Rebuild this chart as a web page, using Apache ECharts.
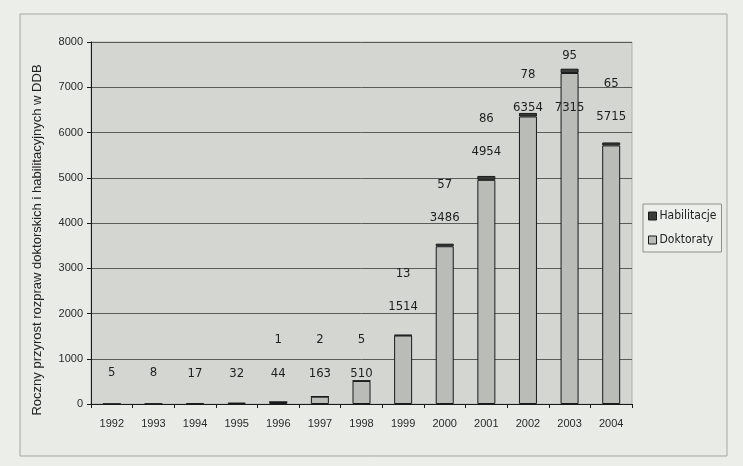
<!DOCTYPE html>
<html><head><meta charset="utf-8">
<script src="https://cdn.jsdelivr.net/npm/echarts@6/dist/echarts.min.js"></script>
<style>html,body{margin:0;padding:0;background:#eceeea;}#c{width:743px;height:466px;}</style>
</head><body><div id="c"></div>
<script>
var years = ['1992','1993','1994','1995','1996','1997','1998','1999','2000','2001','2002','2003','2004'];
var doktoraty = [5, 8, 17, 32, 44, 163, 510, 1514, 3486, 4954, 6354, 7315, 5715];
var habilitacje = [null, null, null, null, 1, 2, 5, 13, 57, 86, 78, 95, 65];
var yTicks = [0, 1000, 2000, 3000, 4000, 5000, 6000, 7000, 8000];

var W = 743, H = 466;
var gTop = 42, gBottom = 62, gLeft = 91, gRight = 111;
var gH = H - gTop - gBottom;
var yMax = 8000;
var pxPer = gH / yMax;
var cond = "'DejaVu Sans Condensed','Liberation Sans Narrow','Arial Narrow',sans-serif";
var sans = "'Liberation Sans',Arial,sans-serif";
var labelFs = 13;

// label layout rule: short bars share a common label row 32px above the base;
// taller bars get their label ~30px above the stack, capped at 298px above the base;
// habilitacje label sits 33px above that, and always clear of the bar top
function dokLabelPx(i){
  var bar = doktoraty[i] * pxPer;
  return Math.min(Math.max(bar < 40 ? 0 : bar + 30, 32), 298);
}
var half = labelFs * 0.6;
var dokData = doktoraty.map(function(v, i){
  var bar = v * pxPer;
  return {value: v, label: {distance: dokLabelPx(i) - bar - half}};
});
var habData = habilitacje.map(function(v, i){
  if (v == null) return {value: null};
  var top = (doktoraty[i] + v) * pxPer;
  var c = Math.max(dokLabelPx(i) + 33, top + 14);
  return {value: v, label: {distance: c - top - half}};
});

var chart = echarts.init(document.getElementById('c'), null, {renderer: 'canvas'});
chart.setOption({
  backgroundColor: '#eceeea',
  animation: false,
  graphic: [
    {type: 'rect', shape: {x: 20, y: 14, width: 707, height: 442},
     style: {fill: '#e9ebe7', stroke: '#a4a6a2', lineWidth: 1}, z: -10},
    {type: 'rect', shape: {x: gLeft, y: gTop, width: W - gLeft - gRight, height: gH},
     style: {fill: '#d3d6d1', stroke: '#b0b2ae', lineWidth: 1}, z: -5}
  ],
  grid: {left: gLeft, right: gRight, top: gTop, bottom: gBottom, containLabel: false},
  legend: {
    orient: 'vertical', left: 643, top: 204, itemWidth: 8, itemHeight: 8, itemGap: 12,
    padding: [6, 5, 6, 5], borderColor: '#8e908c', borderWidth: 1, backgroundColor: '#eceeea',
    icon: 'rect', itemStyle: {borderColor: '#1a1a1a', borderWidth: 1},
    textStyle: {fontFamily: cond, fontSize: 12, color: '#222', padding: [0, 0, 0, -2]},
    data: ['Habilitacje', 'Doktoraty']
  },
  xAxis: {
    type: 'category', data: years,
    axisLine: {lineStyle: {color: '#1a1a1a', width: 1}},
    axisTick: {show: true, length: 4, lineStyle: {color: '#1a1a1a'}},
    axisLabel: {fontFamily: sans, fontSize: 11, color: '#2a2a2a', margin: 14}
  },
  yAxis: {
    type: 'value', min: 0, max: yMax, interval: 1000,
    name: 'Roczny przyrost rozpraw doktorskich i habilitacyjnych w DDB',
    nameLocation: 'middle', nameGap: 47, nameRotate: 90,
    nameTextStyle: {fontFamily: sans, fontSize: 13, color: '#222', padding: [0, 34, 0, 0]},
    axisLine: {show: true, lineStyle: {color: '#1a1a1a', width: 1}},
    axisTick: {show: true, length: 4, lineStyle: {color: '#1a1a1a'}},
    axisLabel: {fontFamily: sans, fontSize: 11, color: '#2a2a2a', margin: 8,
      formatter: function(v){ return yTicks.indexOf(v) >= 0 ? String(v) : ''; }},
    splitLine: {show: true, lineStyle: {color: '#5a5c58', width: 1}}
  },
  series: [
    {
      name: 'Doktoraty', type: 'bar', stack: 'all', barWidth: 18,
      itemStyle: {color: '#b9bcb7', borderColor: '#1a1a1a', borderWidth: 1},
      label: {show: true, position: 'top', fontFamily: cond, fontSize: labelFs, color: '#1e1e1e'},
      data: dokData
    },
    {
      name: 'Habilitacje', type: 'bar', stack: 'all', barWidth: 18,
      itemStyle: {color: '#3a3c38', borderColor: '#1a1a1a', borderWidth: 1},
      label: {show: true, position: 'top', fontFamily: cond, fontSize: labelFs, color: '#1e1e1e'},
      data: habData
    }
  ]
});
</script></body></html>
